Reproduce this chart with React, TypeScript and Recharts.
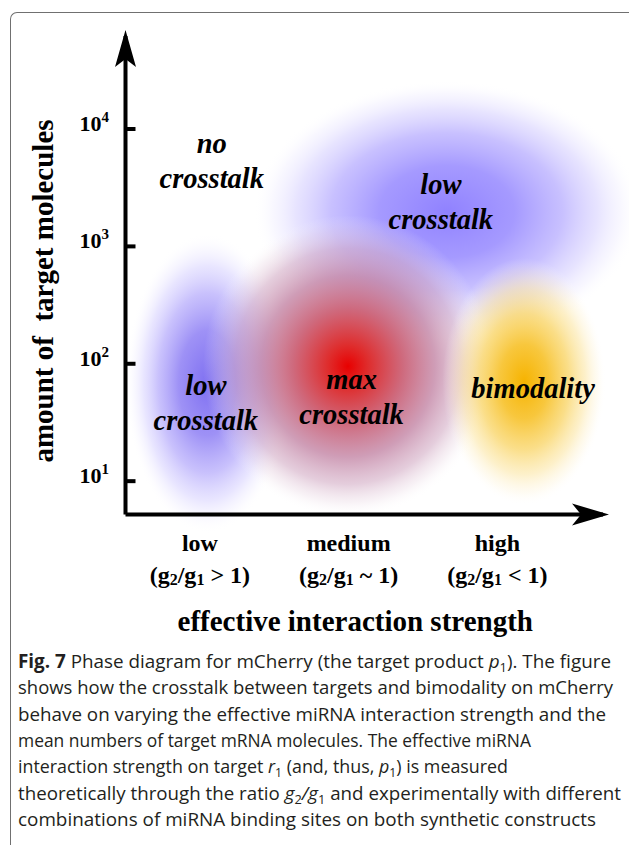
import React from 'react';
import { ScatterChart, Scatter, XAxis, YAxis, ReferenceArea, ReferenceDot } from 'recharts';

// x axis: effective interaction strength (categorical positions)
const strengthPositions = [0, 1, 2];
const strengthLevels = ['low', 'medium', 'high'];
const strengthRelations = ['>', '~', '<'];

// y axis: amount of target molecules (log)
const moleculeTicks = [10, 100, 1000, 10000];

// phase regions (extent in strength units and molecule counts)
const regionKinds = ['lowTop', 'lowLeft', 'max', 'bimodal'];
const regionX1 = [0.36, -0.5, 0.02, 1.63];
const regionX2 = [2.96, 0.6, 1.97, 2.73];
const regionY1 = [150, 3.6, 4.9, 6.2];
const regionY2 = [26000, 1300, 1850, 800];

// region annotations
const labelLines = [['no', 'crosstalk'], ['low', 'crosstalk'], ['low', 'crosstalk'], ['max', 'crosstalk'], ['bimodality']];
const labelX = [0.08, 1.62, 0.04, 1.02, 2.24];
const labelY = [6250, 2800, 54, 61, 51];

const X_DOMAIN = [-0.5, 2.71];
const Y_DOMAIN = [5.2, 62000];

const SERIF = "'Liberation Serif', 'Times New Roman', serif";
const SANS = "'Open Sans', 'Noto Sans', sans-serif";

const palette: Record<string, [number, string, number][]> = {
  lowTop: [[0, '#8a7bff', 0.95], [0.35, '#998cff', 0.88], [0.6, '#b3a8ff', 0.72], [0.78, '#cfc8ff', 0.5], [0.9, '#e4e0ff', 0.25], [1, '#ffffff', 0]],
  lowLeft: [[0, '#7868f0', 0.95], [0.35, '#8d7ef4', 0.85], [0.6, '#ada1fb', 0.66], [0.78, '#cdc6ff', 0.45], [0.9, '#e4e0ff', 0.2], [1, '#ffffff', 0]],
  max: [[0, '#e80000', 1], [0.14, '#dd2222', 0.95], [0.38, '#c8566c', 0.88], [0.6, '#c07ea0', 0.76], [0.78, '#cc9fbc', 0.52], [0.9, '#e2cada', 0.25], [1, '#ffffff', 0]],
  bimodal: [[0, '#f6b300', 1], [0.3, '#f7c22c', 0.92], [0.55, '#f9d464', 0.76], [0.75, '#fbe39a', 0.52], [0.9, '#fdf1cf', 0.24], [1, '#ffffff', 0]],
};

const labelData = labelX.map((x, i) => ({ x, y: labelY[i], lines: labelLines[i] }));

function Blob(props: any) {
  const { x, y, width, height, kind } = props;
  const w = Math.abs(width);
  const h = Math.abs(height);
  const left = width < 0 ? x + width : x;
  const top = height < 0 ? y + height : y;
  const id = `blob-${kind}`;
  return (
    <g>
      <defs>
        <radialGradient id={id} cx="50%" cy="50%" r="50%">
          {palette[kind].map(([off, color, op], i) => (
            <stop key={i} offset={off} stopColor={color} stopOpacity={op} />
          ))}
        </radialGradient>
      </defs>
      <ellipse cx={left + w / 2} cy={top + h / 2} rx={w / 2} ry={h / 2} fill={`url(#${id})`} />
    </g>
  );
}

function RegionLabel(props: any) {
  const { cx, cy, payload } = props;
  return (
    <text x={cx} y={cy} textAnchor="middle" fontFamily={SERIF} fontWeight={700} fontStyle="italic" fontSize={28.5} fill="#000">
      {payload.lines.map((l: string, i: number) => (
        <tspan key={i} x={cx} dy={i === 0 ? 0 : 35}>{l}</tspan>
      ))}
    </text>
  );
}

function StrengthTick(props: any) {
  const { x, y, payload } = props;
  const i = strengthPositions.indexOf(payload.value);
  return (
    <g fontFamily={SERIF} fontWeight={700} fontSize={24} fill="#000">
      <text x={x} y={y + 36} textAnchor="middle">{strengthLevels[i]}</text>
      <text x={x} y={y + 68.5} textAnchor="middle">
        (g<tspan fontSize={16} dy={2}>2</tspan>
        <tspan dy={-2}>/g</tspan>
        <tspan fontSize={16} dy={2}>1</tspan>
        <tspan dy={-2}>{` ${strengthRelations[i]} 1)`}</tspan>
      </text>
    </g>
  );
}

function MoleculeTick(props: any) {
  const { x, y, payload } = props;
  const exp = Math.round(Math.log10(payload.value));
  return (
    <g>
      <line x1={x} x2={x + 10} y1={y} y2={y} stroke="#000" strokeWidth={4} />
      <text x={x - 16.5} y={y + 2} textAnchor="end" fontFamily={SERIF} fontWeight={700} fontSize={22} fill="#000">
        10<tspan dy={-9} fontSize={15}>{exp}</tspan>
      </text>
    </g>
  );
}

const ArrowUp = (p: any) => (
  <path d={`M${p.cx},${p.cy - 6} L${p.cx + 10.5},${p.cy + 31} L${p.cx},${p.cy + 23} L${p.cx - 10.5},${p.cy + 31} Z`} fill="#000" />
);
const ArrowRight = (p: any) => (
  <path d={`M${p.cx + 6},${p.cy} L${p.cx - 31},${p.cy - 11} L${p.cx - 22},${p.cy} L${p.cx - 31},${p.cy + 11} Z`} fill="#000" />
);

const renderXTitle = (p: any) => {
  const vb = p.viewBox;
  return (
    <text x={vb.x + vb.width / 2 - 9} y={vb.y + vb.height - 14.5} textAnchor="middle" fontFamily={SERIF} fontWeight={700} fontSize={29} fill="#000">
      effective interaction strength
    </text>
  );
};

const renderYTitle = (p: any) => {
  const vb = p.viewBox;
  const x = vb.x + 53;
  const y = vb.y + 255;
  return (
    <text x={x} y={y} transform={`rotate(-90, ${x}, ${y})`} textAnchor="middle" fontFamily={SERIF} fontWeight={700} fontSize={29} fill="#000">
      amount of{'\u00a0'} target molecules
    </text>
  );
};

const captionWidths = [593, 595, 588, 513, 490, 603, 578];

function Caption() {
  const sub = (t: string) => <tspan fontSize={13} dy={4}>{t}</tspan>;
  const lines = [
    <>
      <tspan fontWeight={700}>Fig. 7</tspan> Phase diagram for mCherry (the target product <tspan fontStyle="italic">p</tspan>
      {sub('1')}<tspan dy={-4}>). The figure</tspan>
    </>,
    <>shows how the crosstalk between targets and bimodality on mCherry</>,
    <>behave on varying the effective miRNA interaction strength and the</>,
    <>mean numbers of target mRNA molecules. The effective miRNA</>,
    <>
      interaction strength on target <tspan fontStyle="italic">r</tspan>{sub('1')}
      <tspan dy={-4}> (and, thus, </tspan><tspan fontStyle="italic">p</tspan>{sub('1')}<tspan dy={-4}>) is measured</tspan>
    </>,
    <>
      theoretically through the ratio <tspan fontStyle="italic">g</tspan>{sub('2')}
      <tspan dy={-4} fontStyle="italic">/g</tspan>{sub('1')}<tspan dy={-4}> and experimentally with different</tspan>
    </>,
    <>combinations of miRNA binding sites on both synthetic constructs</>,
  ];
  return (
    <svg width={629} height={200} style={{ position: 'absolute', left: 0, top: 645 }}>
      {lines.map((content, i) => (
        <text key={i} x={18} y={23 + i * 26.3} textLength={captionWidths[i]} lengthAdjust="spacingAndGlyphs" fontFamily={SANS} fontSize={19} fill="#231f20">
          {content}
        </text>
      ))}
    </svg>
  );
}

export default function App() {
  return (
    <div style={{ position: 'absolute', left: 0, top: 0, width: 629, height: 845, overflow: 'hidden', background: '#fff' }}>
      <div
        style={{
          position: 'absolute', left: 10, top: 12, width: 700, height: 900,
          borderTop: '1.5px solid #707070', borderLeft: '1.5px solid #707070', borderTopLeftRadius: 7,
        }}
      />
      <div style={{ position: 'absolute', left: 0, top: 0 }}>
        <ScatterChart width={629} height={645} margin={{ top: 36, right: 26, bottom: 0, left: 0 }}>
          <XAxis
            type="number" dataKey="x" domain={X_DOMAIN} ticks={strengthPositions} allowDataOverflow interval={0}
            height={130.5} tickSize={0} tickMargin={0} tickLine={false} tick={<StrengthTick />}
            axisLine={{ stroke: '#000', strokeWidth: 4 }} label={renderXTitle}
          />
          <YAxis
            type="number" dataKey="y" scale="log" domain={Y_DOMAIN} ticks={moleculeTicks} allowDataOverflow interval={0}
            width={125.5} tickSize={0} tickMargin={0} tickLine={false} tick={<MoleculeTick />}
            axisLine={{ stroke: '#000', strokeWidth: 4 }} label={renderYTitle}
          />
          {regionKinds.map((kind, i) => (
            <ReferenceArea
              key={kind} x1={regionX1[i]} x2={regionX2[i]} y1={regionY1[i]} y2={regionY2[i]}
              ifOverflow="visible" shape={(p: any) => <Blob {...p} kind={kind} />}
            />
          ))}
          <Scatter data={labelData} shape={<RegionLabel />} isAnimationActive={false} />
          <ReferenceDot x={X_DOMAIN[0]} y={Y_DOMAIN[1]} ifOverflow="visible" shape={ArrowUp} />
          <ReferenceDot x={X_DOMAIN[1]} y={Y_DOMAIN[0]} ifOverflow="visible" shape={ArrowRight} />
        </ScatterChart>
      </div>
      <Caption />
    </div>
  );
}
